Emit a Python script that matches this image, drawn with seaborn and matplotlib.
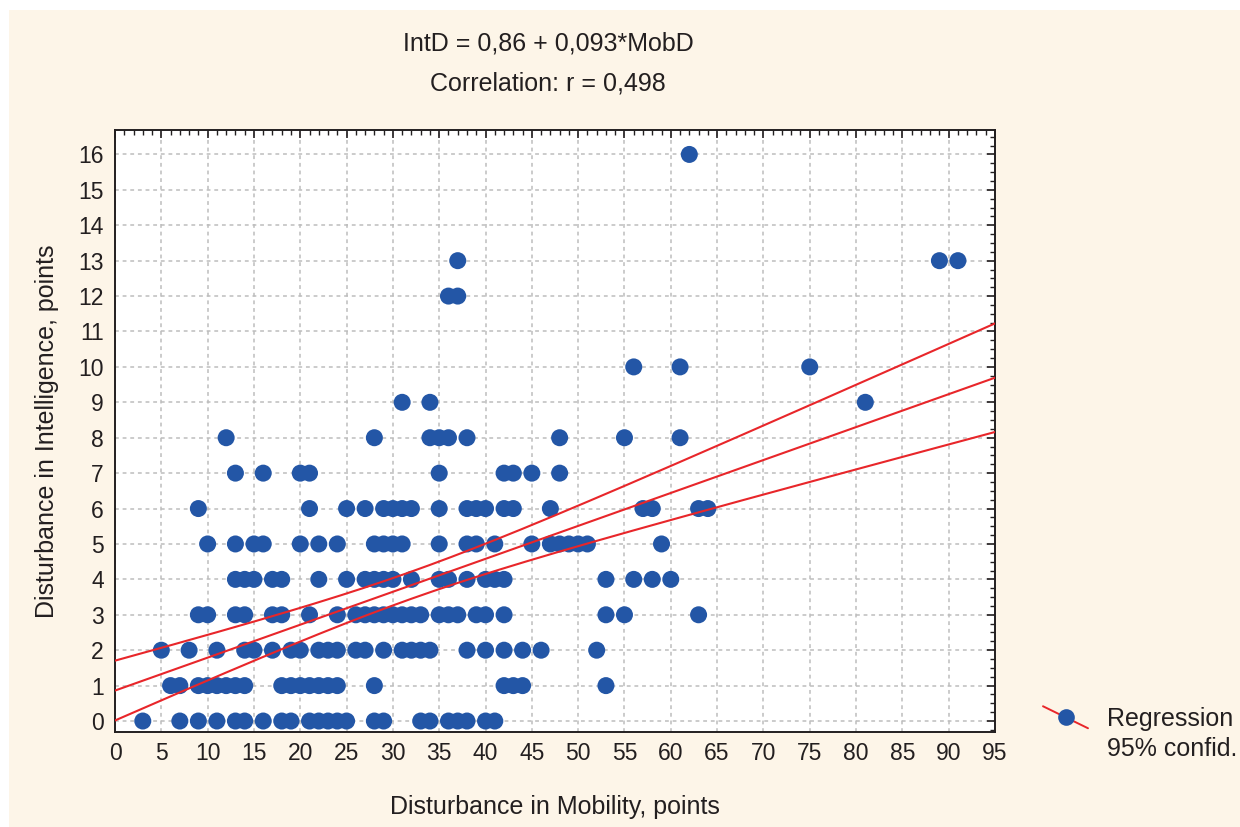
import numpy as np
import pandas as pd
import seaborn as sns
import matplotlib.pyplot as plt
from matplotlib.patches import Rectangle
from matplotlib.lines import Line2D
from matplotlib.legend_handler import HandlerBase
from matplotlib.ticker import MultipleLocator

# MobD values, one list per IntD level
mob_at_0 = [3, 7, 9, 11, 13, 14, 16, 18, 19, 21, 22, 23, 24, 25, 28, 29, 33, 34, 36, 37, 38, 40, 41]
mob_at_1 = [6, 7, 9, 10, 11, 12, 13, 14, 18, 19, 20, 21, 22, 23, 24, 28, 42, 43, 44, 53]
mob_at_2 = [5, 8, 11, 14, 15, 17, 19, 20, 22, 23, 24, 26, 27, 29, 31, 32, 33, 34, 38, 40, 42, 44, 46, 52]
mob_at_3 = [9, 10, 13, 14, 17, 18, 21, 24, 26, 27, 28, 29, 30, 31, 32, 33, 35, 36, 37, 39, 40, 42, 53, 55, 63]
mob_at_4 = [13, 14, 15, 17, 18, 22, 25, 27, 28, 29, 30, 32, 35, 36, 38, 40, 41, 42, 53, 56, 58, 60]
mob_at_5 = [10, 13, 15, 16, 20, 22, 24, 28, 29, 30, 31, 35, 38, 39, 41, 45, 47, 48, 49, 50, 51, 59]
mob_at_6 = [9, 21, 25, 27, 29, 30, 31, 32, 35, 38, 39, 40, 42, 43, 47, 57, 58, 63, 64]
mob_at_7 = [13, 16, 20, 21, 35, 42, 43, 45, 48]
mob_at_8 = [12, 28, 34, 35, 36, 38, 48, 55, 61]
mob_at_9 = [31, 34, 81]
mob_at_10 = [56, 61, 75]
mob_at_12 = [36, 37]
mob_at_13 = [37, 89, 91]
mob_at_16 = [62]

intd_levels = [0, 1, 2, 3, 4, 5, 6, 7, 8, 9, 10, 12, 13, 16]
mob_rows = [mob_at_0, mob_at_1, mob_at_2, mob_at_3, mob_at_4, mob_at_5, mob_at_6,
            mob_at_7, mob_at_8, mob_at_9, mob_at_10, mob_at_12, mob_at_13, mob_at_16]

# regression printed on the chart
intercept = 0.86
slope = 0.093
title_eq = "IntD = 0,86 + 0,093*MobD"
title_r = "Correlation: r = 0,498"

df = pd.DataFrame({"MobD": [m for row in mob_rows for m in row],
                   "IntD": [lvl for lvl, row in zip(intd_levels, mob_rows) for _ in row]})

# 95% confidence band around the printed line
n = len(df)
xm = df["MobD"].mean()
sxx = ((df["MobD"] - xm) ** 2).sum()
resid = df["IntD"] - (intercept + slope * df["MobD"])
s = np.sqrt((resid ** 2).sum() / (n - 2))
xg = np.linspace(0, 95, 200)
fit = intercept + slope * xg
half = 1.973 * s * np.sqrt(1 / n + (xg - xm) ** 2 / sxx)

BLUE = "#2356a6"
RED = "#e8262a"
CREAM = "#fdf5e8"
INK = "#231f20"

sns.set_style("white")
plt.rcParams["font.family"] = ["Liberation Sans", "DejaVu Sans"]
plt.rcParams["text.color"] = INK
plt.rcParams["axes.labelcolor"] = INK
plt.rcParams["xtick.color"] = INK
plt.rcParams["ytick.color"] = INK

fig = plt.figure(figsize=(12.4, 8.27), dpi=100, facecolor="white")
fig.patches.append(Rectangle((9 / 1240, 0), 1, 1 - 10 / 827, transform=fig.transFigure,
                             facecolor=CREAM, edgecolor="none", zorder=-10))
ax = fig.add_axes([115 / 1240, 1 - 732 / 827, 880 / 1240, 602 / 827])
ax.set_facecolor("white")

sns.lineplot(x=xg, y=fit, color=RED, lw=1.5, ax=ax, zorder=4)
sns.lineplot(x=xg, y=fit + half, color=RED, lw=1.5, ax=ax, zorder=4)
sns.lineplot(x=xg, y=fit - half, color=RED, lw=1.5, ax=ax, zorder=4)
sns.scatterplot(data=df, x="MobD", y="IntD", color=BLUE, s=150, edgecolor="none",
                linewidth=0, ax=ax, zorder=3, legend=False)

ax.set_xlim(0, 95)
ax.set_ylim(-0.31, 16.69)
ax.xaxis.set_major_locator(MultipleLocator(5))
ax.xaxis.set_minor_locator(MultipleLocator(1))
ax.yaxis.set_major_locator(MultipleLocator(1))
ax.yaxis.set_minor_locator(MultipleLocator(0.25))
ax.grid(True, which="major", linestyle=(0, (2.5, 2.5)), color="#bdbdbd", linewidth=1.1)
ax.set_axisbelow(True)
ax.tick_params(which="both", direction="in", top=True, right=True, labelsize=16.5)
ax.tick_params(which="major", length=6, width=1.2)
ax.tick_params(which="minor", length=3.5, width=1)
ax.tick_params(axis="x", pad=7)
ax.tick_params(axis="y", pad=8)
for sp in ax.spines.values():
    sp.set_color(INK)
    sp.set_linewidth(1.4)

ax.set_xlabel("Disturbance in Mobility, points", fontsize=18, labelpad=22)
ax.set_ylabel("Disturbance in Intelligence, points", fontsize=18, labelpad=14)

fig.text(548 / 1240, 1 - 43 / 827, title_eq, ha="center", va="center", fontsize=18)
fig.text(548 / 1240, 1 - 83 / 827, title_r, ha="center", va="center", fontsize=18)


class DotOnLine(HandlerBase):
    def create_artists(self, legend, orig_handle, xdescent, ydescent, width, height, fontsize, trans):
        cy = height / 2 - ydescent
        x0 = -xdescent
        line = Line2D([x0, x0 + width], [cy + 0.44 * fontsize, cy - 0.44 * fontsize], color=RED, lw=1.4)
        dot = Line2D([x0 + width / 2], [cy], marker="o", markersize=12, color=BLUE,
                     markeredgewidth=0, linestyle="none")
        line.set_transform(trans)
        dot.set_transform(trans)
        return [line, dot]


reg_handle = Line2D([], [])
blank = Line2D([], [], linestyle="none")
fig.legend([reg_handle, blank], ["Regression", "95% confid."],
           handler_map={reg_handle: DotOnLine()},
           loc="upper left", bbox_to_anchor=(1043 / 1240, 1 - 707 / 827),
           frameon=False, fontsize=18, borderpad=0, borderaxespad=0,
           handlelength=1.8, handletextpad=0.75, labelspacing=0.25)

fig.savefig("out.png", dpi=100, facecolor="white")
